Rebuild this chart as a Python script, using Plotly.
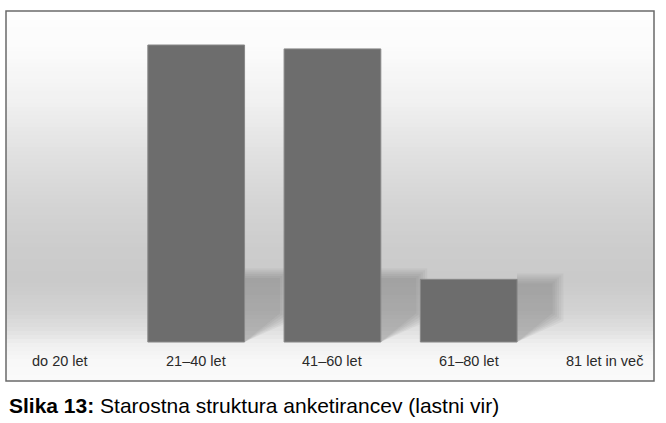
import plotly.graph_objects as go

categories = ["do 20 let", "21–40 let", "41–60 let", "61–80 let", "81 let in več"]
values = [0, 45.5, 44.9, 9.6, 0]
caption_bold = "Slika 13:"
caption_text = " Starostna struktura anketirancev (lastni vir)"

W, H = 666, 423
L, T, R, B = 6, 11, 654, 381
x_range = [-0.396, 4.36]
y_range = [-5.975, 50.71]
bar_width = 0.71

xs = list(range(len(categories)))

fig = go.Figure()
fig.add_trace(go.Bar(
    x=xs, y=values, width=bar_width,
    marker=dict(color="#6d6d6d",
                line=dict(color="#888888", width=[1 if v > 0 else 0 for v in values])),
    hoverinfo="skip",
))

shapes = []
# background vertical gradient (decoration)
stops = [(11, 253), (45, 252), (100, 241), (150, 226), (200, 213), (250, 204),
         (280, 202), (310, 210), (330, 224), (345, 240), (360, 248), (381, 250)]
def gray_at(py):
    for (a, ga), (b, gb) in zip(stops[:-1], stops[1:]):
        if a <= py <= b:
            t = (py - a) / (b - a)
            return ga + (gb - ga) * t
    return stops[-1][1]
step = 4
py = T
while py < B:
    p2 = min(py + step, B)
    g = int(round(gray_at((py + p2) / 2)))
    y0 = (B - p2) / (B - T)
    y1 = (B - py) / (B - T)
    shapes.append(dict(type="rect", xref="paper", yref="paper", x0=0, x1=1,
                       y0=y0, y1=y1, fillcolor=f"rgb({g},{g},{g})",
                       line=dict(width=0), layer="below"))
    py = p2

# soft cast shadows to the right of each bar
for i, v in enumerate(values):
    if v <= 0:
        continue
    xr = xs[i] + bar_width / 2
    top = min(v, 10.4)
    n = 6
    for k in range(n):
        s = (n - 1 - k) / (n - 1)  # 1 -> outermost, 0 -> innermost
        dx = 0.26 + 0.08 * s
        dtop = top + 0.9 * s - 0.6 * (1 - s)
        dy = 4.4 - 1.2 * s
        path = (f"M {xr},0 L {xr + dx},{dy} "
                f"L {xr + dx},{dtop} L {xr},{dtop} Z")
        shapes.append(dict(type="path", xref="x", yref="y", path=path,
                           fillcolor="rgba(70,70,70,0.055)", line=dict(width=0),
                           layer="below"))

# frame
shapes.append(dict(type="rect", xref="paper", yref="paper", x0=0, x1=1, y0=0, y1=1,
                   line=dict(color="#6a6a6a", width=1.5), fillcolor="rgba(0,0,0,0)",
                   layer="above"))

annotations = []
for i, c in enumerate(categories):
    annotations.append(dict(x=xs[i], y=-2.91, xref="x", yref="y", text=c,
                            showarrow=False, xanchor="center", yanchor="middle",
                            font=dict(family="Liberation Sans, Arial, sans-serif",
                                      size=14.5, color="#2a2a2a")))
annotations.append(dict(x=0, y=(B - 405) / (B - T), xref="paper", yref="paper",
                        xanchor="left", yanchor="middle", xshift=1, showarrow=False,
                        text=f"<b>{caption_bold}</b>{caption_text}",
                        font=dict(family="Liberation Sans, Arial, sans-serif",
                                  size=21, color="#000000")))

fig.update_layout(
    width=W, height=H,
    margin=dict(l=L, r=W - R, t=T, b=H - B, pad=0),
    paper_bgcolor="white", plot_bgcolor="white",
    showlegend=False,
    shapes=shapes, annotations=annotations,
    xaxis=dict(range=x_range, showgrid=False, zeroline=False, showticklabels=False,
               fixedrange=True),
    yaxis=dict(range=y_range, showgrid=False, zeroline=False, showticklabels=False,
               fixedrange=True),
)

fig.write_html("out.html", config={"displayModeBar": False},
               post_script="document.body.style.margin='0';")
